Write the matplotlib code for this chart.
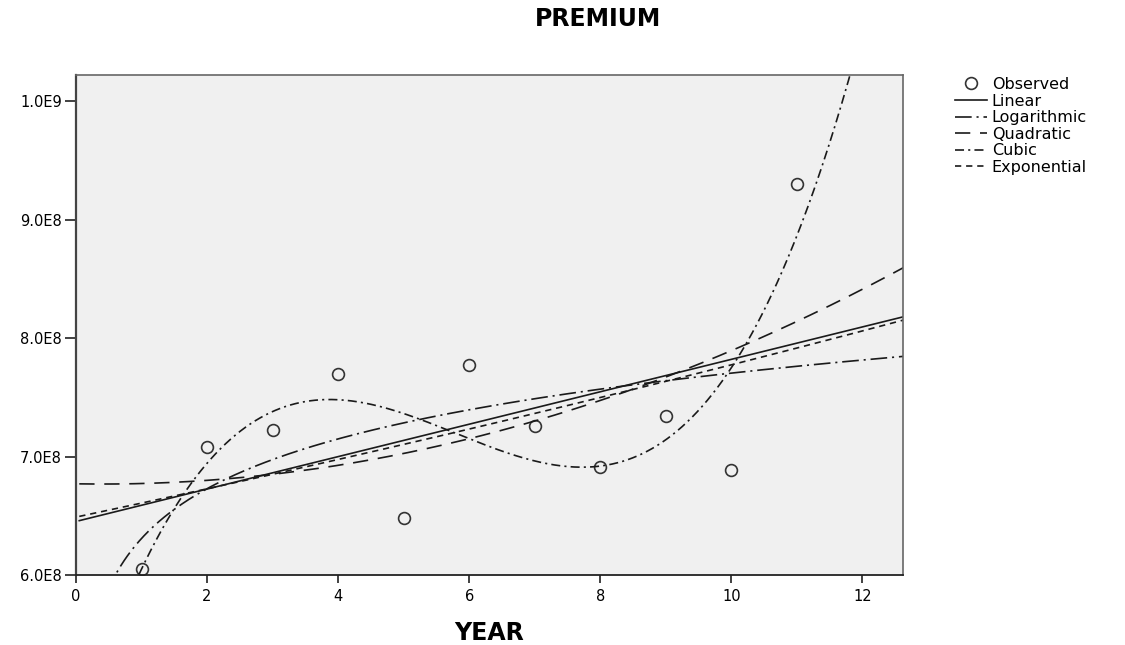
import numpy as np
import matplotlib
matplotlib.use('Agg')
import matplotlib.pyplot as plt
from matplotlib.ticker import FuncFormatter

years = np.array([1, 2, 3, 4, 5, 6, 7, 8, 9, 10, 11])
premium = np.array([6.05e8, 7.08e8, 7.22e8, 7.70e8, 6.48e8, 7.77e8,
                    7.26e8, 6.91e8, 7.34e8, 6.89e8, 9.30e8])

x_ticks = [0, 2, 4, 6, 8, 10, 12]
y_ticks = [6.0e8, 7.0e8, 8.0e8, 9.0e8, 1.0e9]

plt.rcParams['font.family'] = ['DejaVu Sans']
plt.rcParams['lines.scale_dashes'] = False

# Curve estimation fits (same models as the original output)
xs = np.linspace(0.05, 12.7, 500)
lin = np.polyval(np.polyfit(years, premium, 1), xs)
logc = np.polyfit(np.log(years), premium, 1)
logf = logc[1] + logc[0] * np.log(xs)
quad = np.polyval(np.polyfit(years, premium, 2), xs)
cub = np.polyval(np.polyfit(years, premium, 3), xs)
expc = np.polyfit(years, np.log(premium), 1)
expf = np.exp(expc[1] + expc[0] * xs)

fig = plt.figure(figsize=(11.25, 6.45), dpi=100)
ax = fig.add_axes([76 / 1125, 1 - 575 / 645, (903 - 76) / 1125, (575 - 75) / 645])
ax.set_facecolor('#f0f0f0')

col = '#1a1a1a'
lw = 1.2
ax.plot(years, premium, 'o', ms=8.5, mfc='none', mec='#333333', mew=1.2, label='Observed')
ax.plot(xs, lin, color=col, lw=lw, label='Linear')
ax.plot(xs, logf, color=col, lw=lw, dashes=(12, 3.5, 1.5, 3.5), label='Logarithmic')
ax.plot(xs, quad, color=col, lw=lw, dashes=(11, 7), label='Quadratic')
ax.plot(xs, cub, color=col, lw=lw, dashes=(6.5, 3, 1.5, 3), label='Cubic')
ax.plot(xs, expf, color=col, lw=lw, dashes=(4.5, 3.5), label='Exponential')

ax.set_xlim(0, 12.62)
ax.set_ylim(6.0e8, 1.022e9)
ax.set_xticks(x_ticks)
ax.set_yticks(y_ticks)

def sci_label(v, pos):
    e = int(np.floor(np.log10(v)))
    return f'{v / 10 ** e:.1f}E{e}'

ax.yaxis.set_major_formatter(FuncFormatter(sci_label))
ax.tick_params(axis='x', length=6, width=1.3, pad=4, labelsize=10.5, color='#333333')
ax.tick_params(axis='y', length=8, width=1.3, pad=2, labelsize=10.5, color='#333333')
for s in ['top', 'right']:
    ax.spines[s].set_color('#666666')
    ax.spines[s].set_linewidth(1.2)
ax.spines['left'].set_color('#444444')
ax.spines['left'].set_linewidth(1.6)
ax.spines['bottom'].set_color('#222222')
ax.spines['bottom'].set_linewidth(1.3)

ax.set_xlabel('YEAR', fontsize=17, fontweight='bold', labelpad=12)
fig.text(598 / 1125, 1 - 19 / 645, 'PREMIUM', fontsize=17, fontweight='bold',
         ha='center', va='center')

fig.legend(loc='upper left', bbox_to_anchor=(955 / 1125, 1 - 77 / 645),
           frameon=False, fontsize=11.5, handlelength=2.0, handletextpad=0.3,
           labelspacing=0.1, borderpad=0, borderaxespad=0)

fig.savefig('out.png', dpi=100)
